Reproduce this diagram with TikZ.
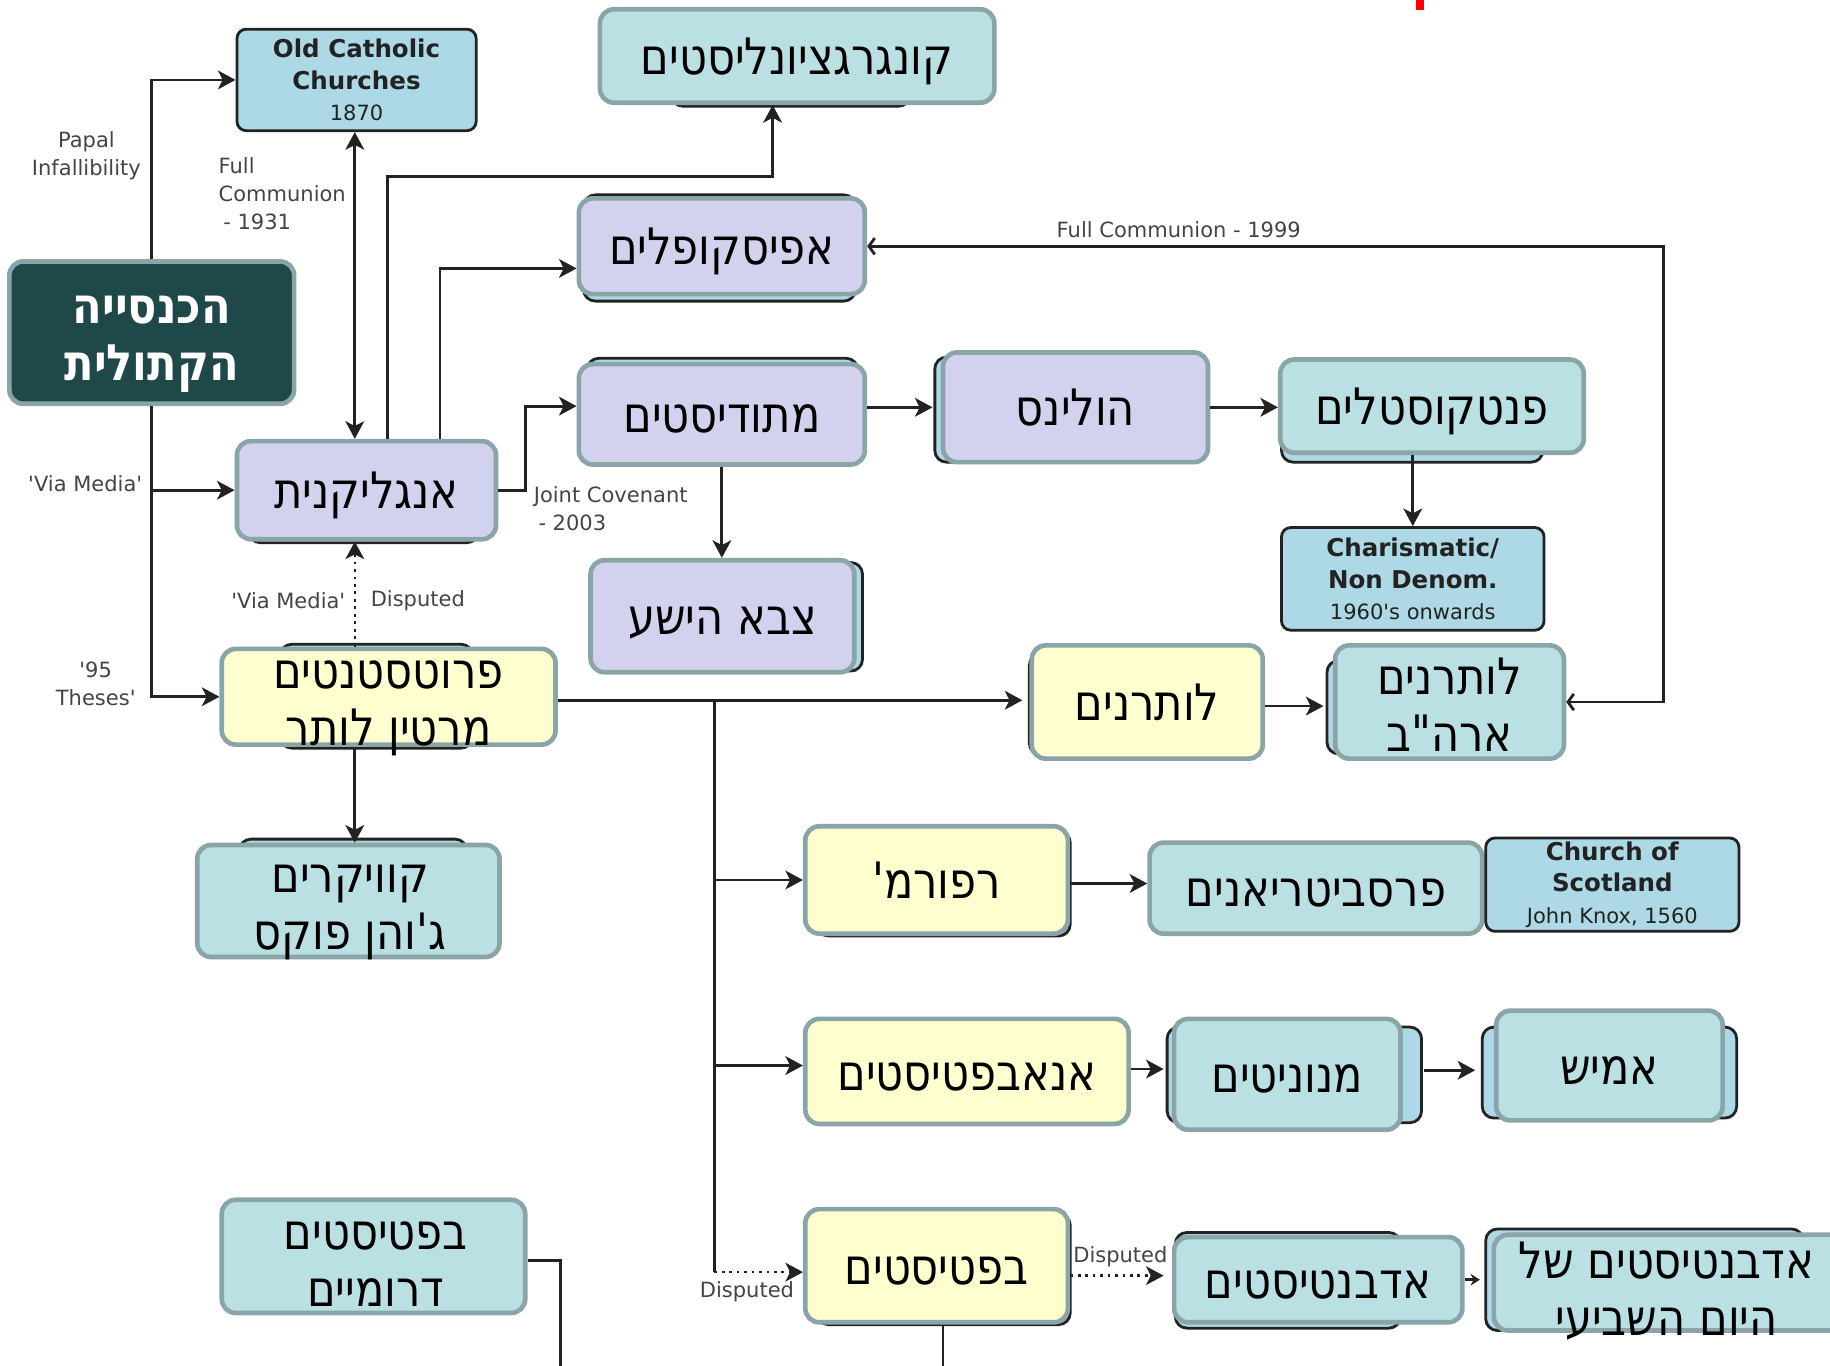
\documentclass[tikz,border=0pt]{standalone}
\usepackage{fontspec}
\setmainfont{DejaVu Sans}
\newfontfamily\hebfont[Script=Hebrew,FakeStretch=0.86]{DejaVu Sans}
\TeXXeTstate=1
\usetikzlibrary{arrows.meta,calc}
\newcommand\rl[1]{\beginR #1\endR}
\newcommand\sq{\textquotesingle}
\definecolor{bord}{HTML}{8AA5A7}
\definecolor{lav}{HTML}{D2D2EE}
\definecolor{cyanf}{HTML}{BBE0E3}
\definecolor{yel}{HTML}{FEFECE}
\definecolor{lblue}{HTML}{ADD8E6}
\definecolor{dk}{HTML}{222222}
\definecolor{cathf}{HTML}{1F4848}
\definecolor{lblc}{HTML}{444444}
\begin{document}
\begin{tikzpicture}[x=0.5pt,y=-0.5pt,
  hfont/.style={font=\hebfont\fontsize{21.5}{24.5}\selectfont},
  box/.style={draw=bord, line width=2pt, rounded corners=6pt, inner sep=0pt, hfont, text height=16pt, text depth=0pt},
  lavbox/.style={box, fill=lav},
  cybox/.style={box, fill=cyanf},
  yebox/.style={box, fill=yel},
  catbox/.style={box, fill=cathf},
  htext/.style={hfont, align=center, inner sep=0pt},
  dbox/.style={draw=dk, line width=1.2pt, rounded corners=4pt, fill=lblue, align=center, inner sep=0pt, text=dk, font=\fontsize{10.5}{13.5}\selectfont},
  back/.style={draw=dk, line width=1.2pt, rounded corners=5pt, fill=lblue},
  conn/.style={draw=dk, line width=1.2pt},
  arr/.style={conn, -{Stealth[length=7.5pt,width=8pt,inset=2pt]}},
  darr/.style={conn, {Stealth[length=7.5pt,width=8pt,inset=2pt]}-{Stealth[length=7.5pt,width=8pt,inset=2pt]}},
  barb/.style={conn, {Straight Barb[length=2.5pt,width=7pt]}-{Straight Barb[length=2.5pt,width=7pt]}},
  dotarr/.style={arr, dotted},
  lbl/.style={font=\fontsize{9}{12}\selectfont, text=lblc, inner sep=1pt, align=center}
]
\useasboundingbox (0,0) rectangle (1568,1170);
\fill[red] (1213,0) rectangle (1220,9);

% shadow boxes behind
\draw[back] (575,12) rectangle (780,91);
\draw[back] (500,167) rectangle (733,258);
\draw[back] (213,382) rectangle (410,465);
\draw[back] (503,307) rectangle (735,392);
\draw[back] (801,306) rectangle (1000,396);
\draw[back] (1098,312) rectangle (1322,396);
\draw[back] (520,482) rectangle (739,575);
\draw[back] (240,552) rectangle (405,641);
\draw[back] (882,560) rectangle (1060,647);
\draw[back] (1137,566) rectangle (1300,646);
\draw[back] (205,719) rectangle (400,800);
\draw[back] (700,712) rectangle (917,802);
\draw[back] (1000,880) rectangle (1218,962);
\draw[back] (1270,880) rectangle (1488,958);
\draw[back] (700,1040) rectangle (917,1135);
\draw[back] (1007,1056) rectangle (1200,1138);
\draw[back] (1273,1053) rectangle (1545,1140);

% nodes
\node[dbox, minimum width=102.5pt, minimum height=43.5pt] (oldc) at (305.5,68.5)
  {\textbf{Old Catholic}\\\textbf{Churches}\\{\fontsize{9}{11}\selectfont 1870}};
\node[cybox, minimum width=169pt, minimum height=40pt] (cong) at (683,48) {\rl{קונגרגציונליסטים}};
\node[lavbox, minimum width=122.5pt, minimum height=41pt] (epis) at (618.5,211) {\rl{אפיסקופלים}};
\node[catbox, minimum width=122pt, minimum height=61pt] (cath) at (130,285) {};
\node[htext, text=white, font=\hebfont\bfseries\fontsize{21.5}{24.5}\selectfont] (cath-t) at (130,295) {\rl{הכנסייה}\\\rl{הקתולית}};
\node[lavbox, minimum width=111pt, minimum height=42pt] (ang) at (314,420) {\rl{אנגליקנית}};
\node[lavbox, minimum width=122.5pt, minimum height=43pt] (meth) at (618.5,355) {\rl{מתודיסטים}};
\node[lavbox, minimum width=113.5pt, minimum height=47pt] (hol) at (921.5,349) {\rl{הולינס}};
\node[cybox, minimum width=130pt, minimum height=40pt] (pent) at (1227,348) {\rl{פנטקוסטלים}};
\node[dbox, minimum width=112.5pt, minimum height=44pt] (char) at (1210.5,496)
  {\textbf{Charismatic/}\\\textbf{Non Denom.}\\{\fontsize{9}{11}\selectfont 1960\sq s onwards}};
\node[lavbox, minimum width=113pt, minimum height=48pt] (salv) at (619,528) {\rl{צבא הישע}};
\node[yebox, minimum width=143pt, minimum height=41pt] (prot) at (333,597) {};
\node[htext] (prot-t) at (333,607) {\rl{פרוטסטנטים}\\\rl{מרטין לותר}};
\node[yebox, minimum width=99pt, minimum height=48.5pt] (luth) at (983,601.5) {\rl{לותרנים}};
\node[cybox, minimum width=98pt, minimum height=48.5pt] (elca) at (1242,601.5) {};
\node[htext] (elca-t) at (1242,604) {\rl{לותרנים}\\\rl{ארה"ב}};
\node[cybox, minimum width=129.5pt, minimum height=48pt] (quak) at (298.5,772) {};
\node[htext] (quak-t) at (300,782) {\rl{קוויקרים}\\\rl{ג'והן פוקס}};
\node[yebox, minimum width=112.5pt, minimum height=46pt] (ref) at (802.5,754) {\rl{רפורמ'}};
\node[cybox, minimum width=142.5pt, minimum height=39pt] (pres) at (1127.5,761) {\rl{פרסביטריאנים}};
\node[dbox, minimum width=108.5pt, minimum height=40pt] (scot) at (1381.5,758)
  {\textbf{Church of}\\\textbf{Scotland}\\{\fontsize{9}{11}\selectfont John Knox, 1560}};
\node[yebox, minimum width=138.5pt, minimum height=45pt] (anab) at (828.5,918) {\rl{אנאבפטיסטים}};
\node[cybox, minimum width=97pt, minimum height=47.5pt] (menn) at (1103,920.5) {\rl{מנוניטים}};
\node[cybox, minimum width=97pt, minimum height=47pt] (amish) at (1379,913) {\rl{אמיש}};
\node[yebox, minimum width=112.5pt, minimum height=48.5pt] (bap) at (802.5,1084.5) {\rl{בפטיסטים}};
\node[cybox, minimum width=123.5pt, minimum height=36.5pt] (adv) at (1129.5,1096.5) {\rl{אדבנטיסטים}};
\node[cybox, minimum width=150pt, minimum height=41pt] (sda) at (1430,1099) {};
\node[htext] (sda-t) at (1428,1106) {\rl{אדבנטיסטים של}\\\rl{היום השביעי}};
\node[cybox, minimum width=130pt, minimum height=48.5pt] (sb) at (320,1076.5) {};
\node[htext] (sb-t) at (322,1083) {\rl{בפטיסטים}\\\rl{דרומיים}};

% labels
\node[lbl] (l-papal) at (74,133) {Papal\\Infallibility};
\node[lbl] (l-via1) at (73,414) {\sq Via Media\sq};
\node[lbl] (l-95) at (82,586) {\sq 95\\Theses\sq};
\node[lbl, anchor=west, align=left] (l-fc31) at (185,166) {Full\\Communion\\\hspace{2pt}- 1931};
\node[lbl] (l-fc99) at (1010,197) {Full Communion - 1999};
\node[lbl, anchor=west, align=left] (l-jc) at (455,436) {Joint Covenant\\\hspace{2pt}- 2003};
\node[lbl] (l-via2) at (247,515) {\sq Via Media\sq};
\node[lbl] (l-dis1) at (358,515) {Disputed};
\node[lbl] (l-dis2) at (640,1107) {Disputed};
\node[lbl] (l-dis3) at (960,1077) {Disputed};

% helper coordinates
\coordinate (k1) at (662,151);
\coordinate (k2) at (450,420);
\coordinate (k3) at (1425,601.5);
\coordinate (k4) at (304,0);
\coordinate (v0) at (612,600);
\coordinate (v1) at (612,1090);
\coordinate (sb1) at (480,1080);
\coordinate (bot) at (0,1175);
\coordinate (bx) at (808,0);

% connectors
\draw[arr] (cath.north) |- (oldc.west);
\draw[arr] (cath.south) |- (prot.west);
\draw[arr] (cath.south |- ang.west) -- (ang.west);
\draw[darr] (oldc.south -| k4) -- (ang.north -| k4);
\draw[arr] ([xshift=9pt]ang.north) |- (k1) -- (k1 |- cong.south);
\draw[arr] ([xshift=31.5pt]ang.north) |- ([yshift=-9.5pt]epis.west);
\draw[arr] (ang.east) -- (k2) |- ([yshift=3.5pt]meth.west);
\draw[arr, shorten >=3.5pt] (meth.east |- hol.west) -- (hol.west);
\draw[arr] (hol.east) -- (hol.east -| pent.west);
\draw[arr] (char.north |- pent.south) -- (char.north);
\draw[arr] (meth.south) -- (meth.south |- salv.north);
\draw[barb] (elca.east) -- (k3) |- (epis.east);
\draw[dotarr, line width=1pt] (prot.north -| k4) -- (ang.south -| k4);
\draw[arr] (prot.south -| k4) -- (quak.north -| k4);
\draw[arr, shorten >=3pt] (prot.east |- v0) -- (v0 -| luth.west);
\draw[conn] (v0) -- (v1);
\draw[arr] (v0 |- ref.west) -- (ref.west);
\draw[arr] ([yshift=2.5pt]anab.west -| v0) -- ([yshift=2.5pt]anab.west);
\draw[dotarr, line width=1pt] (v1) -- (v1 -| bap.west);
\draw[arr, shorten >=4pt] ([yshift=-1.75pt]luth.east) -- ([yshift=-1.75pt]luth.east -| elca.west);
\draw[arr] ([yshift=-1.5pt]ref.east) -- ([yshift=-1.5pt]ref.east -| pres.west);
\draw[arr, shorten >=3.5pt] ([yshift=1pt]anab.east) -- ([yshift=1pt]anab.east -| menn.west);
\draw[arr, shorten <=9pt, shorten >=8pt] ([yshift=1.75pt]menn.east) -- ([yshift=1.75pt]menn.east -| amish.west);
\draw[dotarr, line width=1pt, shorten >=3.5pt] ([yshift=-4.25pt]bap.east) -- ([yshift=-4.25pt]bap.east -| adv.west);
\draw[conn, -{Stealth[length=4pt,width=5pt]}, shorten >=5pt] (adv.east) -- (adv.east -| sda.west);
\draw[conn] (sb.east |- sb1) -- (sb1) -- (sb1 |- bot);
\draw[conn] (bap.south -| bx) -- (bx |- bot);
\end{tikzpicture}
\end{document}
